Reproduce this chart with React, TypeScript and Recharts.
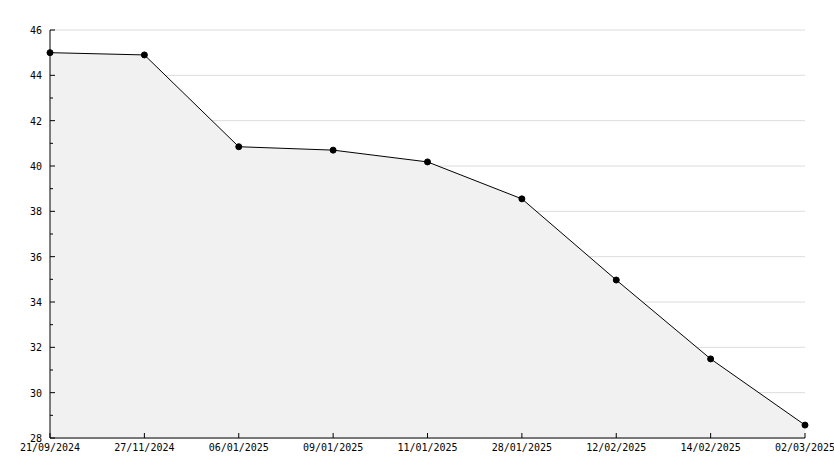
import { Area, AreaChart, CartesianGrid, XAxis, YAxis } from 'recharts';

const dates = [
  '21/09/2024', '27/11/2024', '06/01/2025', '09/01/2025', '11/01/2025',
  '28/01/2025', '12/02/2025', '14/02/2025', '02/03/2025',
];
const values = [45.0, 44.9, 40.85, 40.7, 40.18, 38.55, 34.97, 31.49, 28.57];
const yTicks = [28, 29, 30, 31, 32, 33, 34, 35, 36, 37, 38, 39, 40, 41, 42, 43, 44, 45, 46];
const gridValues = [28, 30, 32, 34, 36, 38, 40, 42, 44, 46];

const data = dates.map((d, i) => ({ date: d, value: values[i] }));

const FONT = '"DejaVu Sans Mono", monospace';

const YTick = (props: any) => {
  const { x, y, payload } = props;
  const major = payload.value % 2 === 0;
  return (
    <g>
      <line x1={x} x2={x + (major ? 5 : 3)} y1={y} y2={y} stroke="#000" />
      {major && (
        <text x={x - 8} y={y + 4} textAnchor="end" fontSize={10} fontFamily={FONT} fill="#000">
          {payload.value}
        </text>
      )}
    </g>
  );
};

const XTick = (props: any) => {
  const { x, y, payload } = props;
  return (
    <g>
      <line x1={x} x2={x} y1={y} y2={y - 5} stroke="#000" />
      <text x={x} y={y + 13} textAnchor="middle" fontSize={10} fontFamily={FONT} fill="#000">
        {payload.value}
      </text>
    </g>
  );
};

const App = () => (
  <div style={{ position: 'absolute', left: 0, top: 0, background: '#fff' }}>
    <AreaChart width={834} height={468} data={data} margin={{ top: 30, right: 29, left: 0, bottom: 0 }}>
      <CartesianGrid vertical={false} horizontalValues={gridValues} stroke="#dcdcdc" />
      <XAxis
        dataKey="date"
        interval={0}
        height={30}
        tickSize={0}
        tickMargin={0}
        tick={<XTick />}
        axisLine={{ stroke: '#000' }}
        tickLine={false}
        padding={{ left: 0, right: 0 }}
      />
      <YAxis
        domain={[28, 46]}
        ticks={yTicks}
        interval={0}
        width={50}
        tickSize={0}
        tickMargin={0}
        tick={<YTick />}
        axisLine={{ stroke: '#000' }}
        tickLine={false}
      />
      <Area
        type="linear"
        dataKey="value"
        stroke="#000"
        strokeWidth={1}
        fill="#f1f1f1"
        fillOpacity={1}
        dot={{ r: 3, fill: '#000', stroke: '#000', strokeWidth: 1 }}
        activeDot={false}
        isAnimationActive={false}
      />
    </AreaChart>
  </div>
);

export default App;
